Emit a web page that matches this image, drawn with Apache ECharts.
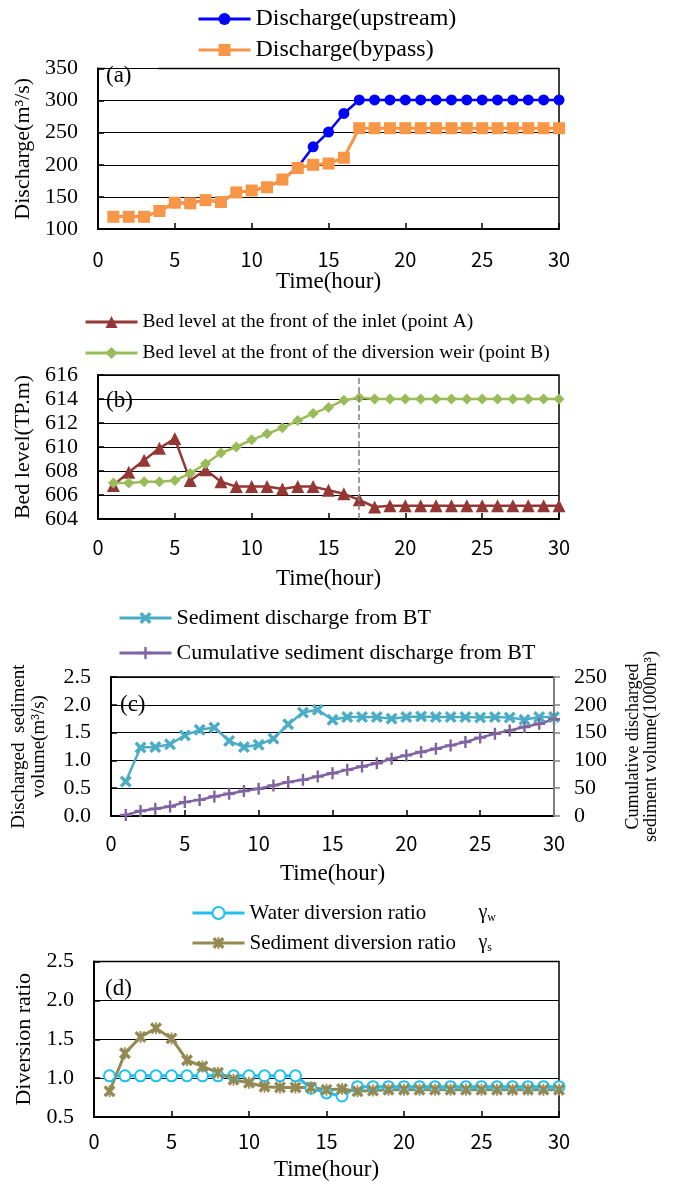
<!DOCTYPE html>
<html style="height: 100%">
<head>
    <meta charset="utf-8">
</head>
<body style="height: 100%; margin: 0; background: #fff">
    <div id="container" style="width: 673px; height: 1182px"></div>
    <script src="https://cdn.jsdelivr.net/npm/echarts@6.0.0/dist/echarts.min.js"></script>
<script>
    // time axis (hour)
    var hours = [1, 2, 3, 4, 5, 6, 7, 8, 9, 10, 11, 12, 13, 14, 15, 16, 17, 18, 19, 20, 21, 22, 23, 24, 25, 26, 27, 28, 29, 30];

    // (a) discharge m3/s
    var dischargeUp = [119, 119, 119, 128, 141, 140, 145, 142, 157, 160, 165, 177, 196, 228, 251, 280,
        301, 301, 301, 301, 301, 301, 301, 301, 301, 301, 301, 301, 301, 301];
    var dischargeBypass = [119, 119, 119, 128, 141, 140, 145, 142, 157, 160, 165, 177, 195, 200, 202, 211,
        257, 257, 257, 257, 257, 257, 257, 257, 257, 257, 257, 257, 257, 257];

    // (b) bed level TP.m
    var bedA = [606.8, 607.9, 608.9, 609.9, 610.7, 607.2, 608.1, 607.1, 606.7, 606.7, 606.7, 606.5, 606.7, 606.7, 606.4, 606.1, 605.6, 605.0,
        605.1, 605.1, 605.1, 605.1, 605.1, 605.1, 605.1, 605.1, 605.1, 605.1, 605.1, 605.1];
    var bedB = [607.0, 607.0, 607.1, 607.1, 607.2, 607.8, 608.6, 609.5, 610.0, 610.6, 611.1, 611.6, 612.2, 612.8, 613.3, 613.9, 614.1,
        614.0, 614.0, 614.0, 614.0, 614.0, 614.0, 614.0, 614.0, 614.0, 614.0, 614.0, 614.0, 614.0];

    // (c) sediment discharge
    var sedQ = [0.62, 1.23, 1.24, 1.29, 1.45, 1.55, 1.59, 1.35, 1.24, 1.28, 1.39, 1.65, 1.86, 1.91, 1.73, 1.78, 1.78, 1.78, 1.75, 1.78,
        1.79, 1.78, 1.78, 1.78, 1.77, 1.78, 1.77, 1.73, 1.78, 1.78];
    var sedCum = [2, 9, 13, 17, 25, 29, 35, 40, 45, 49, 55, 61, 65, 71, 77, 83, 89, 95, 103, 109, 115, 121, 127, 133, 141, 148, 154, 160, 166, 174];

    // (d) diversion ratio
    var ratioWater = [1.03, 1.03, 1.03, 1.03, 1.03, 1.03, 1.03, 1.03, 1.03, 1.03, 1.03, 1.03, 1.03, 0.87, 0.81, 0.77, 0.89,
        0.89, 0.89, 0.89, 0.89, 0.89, 0.89, 0.89, 0.89, 0.89, 0.89, 0.89, 0.89, 0.89];
    var ratioSed = [0.83, 1.32, 1.53, 1.64, 1.51, 1.23, 1.15, 1.07, 0.98, 0.94, 0.89, 0.88, 0.88, 0.88, 0.85, 0.86, 0.83, 0.84,
        0.85, 0.85, 0.85, 0.85, 0.85, 0.85, 0.85, 0.85, 0.85, 0.85, 0.85, 0.85];

    var serif = 'Liberation Serif';
    var sans = 'Noto Sans CJK JP';

    var xMark = 'path://M0,2 L2,0 L5,3 L8,0 L10,2 L7,5 L10,8 L8,10 L5,7 L2,10 L0,8 L3,5 Z';
    var plusMark = 'path://M4,0 H6 V4 H10 V6 H6 V10 H4 V6 H0 V4 H4 Z';
    var starMark = 'path://M0,2 L2,0 L5,3 L8,0 L10,2 L7,5 L10,8 L8,10 L5,7 L2,10 L0,8 L3,5 Z M4.3,0 H5.7 V10 H4.3 Z';

    function pairs(vals) {
        return hours.map(function (h, i) { return [h, vals[i]]; });
    }

    function xAx(gi, labelGap, nameGap) {
        return {
            type: 'value', gridIndex: gi, min: 0, max: 30, interval: 5,
            name: 'Time(hour)', nameLocation: 'middle', nameGap: nameGap,
            nameTextStyle: { fontFamily: serif, fontSize: 23, color: '#000' },
            axisLine: { lineStyle: { color: '#000', width: 2 } },
            axisTick: { inside: true, length: 6, lineStyle: { color: '#000', width: 1.5 } },
            axisLabel: { fontFamily: sans, fontSize: 20, color: '#000', margin: labelGap },
            splitLine: { show: false }
        };
    }

    function yAx(gi, min, max, interval, name, nameGap, digits) {
        return {
            type: 'value', gridIndex: gi, min: min, max: max, interval: interval,
            name: name, nameLocation: 'middle', nameGap: nameGap,
            nameTextStyle: { fontFamily: serif, fontSize: 22, color: '#000', lineHeight: 20 },
            axisLine: { show: true, lineStyle: { color: '#000', width: 2 } },
            axisTick: { show: true, inside: true, length: 6, lineStyle: { color: '#000', width: 1.5 } },
            axisLabel: {
                fontFamily: serif, fontSize: 22, color: '#000', margin: 20,
                formatter: function (v) { return v.toFixed(digits); }
            },
            splitLine: { show: true, lineStyle: { color: '#000', width: 1 } }
        };
    }

    function panelTag(txt, rx, ry, rw, rh, tx, ty) {
        return {
            type: 'group', z: 100,
            children: [
                { type: 'rect', shape: { x: rx, y: ry, width: rw, height: rh }, style: { fill: '#fff' } },
                { type: 'text', x: tx, y: ty, style: { text: txt, font: '23px "Liberation Serif"', fill: '#000', verticalAlign: 'middle' } }
            ]
        };
    }

    var dom = document.getElementById('container');
    var myChart = echarts.init(dom);

    var yC = yAx(2, 0, 2.5, 0.5, 'Discharged  sediment\nvolume(m³/s)', 62, 1);
    yC.nameTextStyle.fontSize = 19;
    var yC2 = {
        type: 'value', gridIndex: 2, position: 'right', min: 0, max: 250, interval: 50,
        name: 'Cumulative discharged\nsediment volume(1000m³)', nameLocation: 'middle', nameGap: 70,
        nameTextStyle: { fontFamily: serif, fontSize: 18, color: '#000', lineHeight: 18 },
        axisLine: { show: true, lineStyle: { color: '#808080', width: 2 } },
        axisTick: { show: true, inside: false, length: 6, lineStyle: { color: '#808080', width: 1.5 } },
        axisLabel: { fontFamily: serif, fontSize: 22, color: '#000', margin: 20 },
        splitLine: { show: false },
        z: 5
    };

    var option = {
        animation: false,
        backgroundColor: '#fff',
        grid: [
            { left: 98, right: 114, top: 68.5, height: 160.5, show: true, borderColor: '#000', borderWidth: 1.5 },
            { left: 98, right: 114, top: 375, height: 144, show: true, borderColor: '#000', borderWidth: 1.5 },
            { left: 111, right: 119, top: 677, height: 139, show: true, borderColor: '#000', borderWidth: 1.5 },
            { left: 94, right: 114, top: 961.5, height: 156, show: true, borderColor: '#000', borderWidth: 1.5 }
        ],
        legend: [
            {
                data: ['Discharge(upstream)', 'Discharge(bypass)'], orient: 'vertical', left: 197, top: 7, padding: 0,
                itemWidth: 52, itemHeight: 15, itemGap: 7, lineStyle: { width: 3 },
                textStyle: { fontFamily: serif, fontSize: 24, lineHeight: 22, color: '#000' }
            },
            {
                data: ['Bed level at the front of the inlet (point A)', 'Bed level at the front of the diversion weir (point B)'],
                orient: 'vertical', left: 84, top: 312, padding: 0, itemWidth: 52, itemHeight: 15, itemGap: 11, lineStyle: { width: 3 },
                textStyle: { fontFamily: serif, fontSize: 19.5, lineHeight: 20, color: '#000' }
            },
            {
                data: ['Sediment discharge from BT', 'Cumulative sediment discharge from BT'],
                orient: 'vertical', left: 118, top: 607, padding: 0, itemWidth: 52, itemHeight: 15, itemGap: 13, lineStyle: { width: 3 },
                textStyle: { fontFamily: serif, fontSize: 22, lineHeight: 22, color: '#000' }
            },
            {
                data: ['Water diversion ratio', 'Sediment diversion ratio'],
                orient: 'vertical', left: 191, top: 902, padding: 0, itemWidth: 52, itemHeight: 15, itemGap: 8, lineStyle: { width: 3 },
                formatter: function (name) {
                    if (name === 'Water diversion ratio') return '{a|Water diversion ratio}{g|γ}{s|w}';
                    return '{a|Sediment diversion ratio}{g|γ}{s|s}';
                },
                textStyle: {
                    fontFamily: serif, fontSize: 21, lineHeight: 22, color: '#000',
                    rich: {
                        a: { width: 229, fontFamily: serif, fontSize: 21, color: '#000' },
                        g: { fontFamily: serif, fontSize: 20, color: '#000' },
                        s: { fontFamily: serif, fontSize: 12, color: '#000', padding: [9, 0, 0, 0] }
                    }
                }
            }
        ],
        xAxis: [xAx(0, 20, 41), xAx(1, 18, 48), xAx(2, 17, 46), xAx(3, 14, 41)],
        yAxis: [
            yAx(0, 100, 350, 50, 'Discharge(m³/s)', 65, 0),
            yAx(1, 604, 616, 2, 'Bed level(TP.m)', 65, 0),
            yC,
            yAx(3, 0.5, 2.5, 0.5, 'Diversion ratio', 58, 1),
            yC2
        ],
        graphic: [
            panelTag('(a)', 105, 62, 53, 27, 106, 76),
            panelTag('(b)', 105, 389, 52, 23, 106, 401),
            panelTag('(c)', 118, 693, 55, 24, 120, 705),
            panelTag('(d)', 102, 976, 53, 27, 105, 989)
        ],
        series: [
            {
                name: 'Discharge(upstream)', type: 'line', xAxisIndex: 0, yAxisIndex: 0, data: pairs(dischargeUp),
                symbol: 'circle', symbolSize: 11, color: '#0000FF', lineStyle: { width: 2.5 }
            },
            {
                name: 'Discharge(bypass)', type: 'line', xAxisIndex: 0, yAxisIndex: 0, data: pairs(dischargeBypass),
                symbol: 'rect', symbolSize: 12, color: '#F79646', lineStyle: { width: 3 }
            },
            {
                name: 'Bed level at the front of the inlet (point A)', type: 'line', xAxisIndex: 1, yAxisIndex: 1, data: pairs(bedA),
                symbol: 'triangle', symbolSize: 13, color: '#953735', lineStyle: { width: 2.5 },
                markLine: {
                    silent: true, symbol: 'none', label: { show: false },
                    lineStyle: { type: 'dashed', color: '#808080', width: 1.5 },
                    data: [{ xAxis: 17 }]
                }
            },
            {
                name: 'Bed level at the front of the diversion weir (point B)', type: 'line', xAxisIndex: 1, yAxisIndex: 1, data: pairs(bedB),
                symbol: 'diamond', symbolSize: 11, color: '#9BBB59', lineStyle: { width: 2.5 }
            },
            {
                name: 'Sediment discharge from BT', type: 'line', xAxisIndex: 2, yAxisIndex: 2, data: pairs(sedQ),
                symbol: xMark, symbolSize: 12, color: '#4BACC6', lineStyle: { width: 2.5 }
            },
            {
                name: 'Cumulative sediment discharge from BT', type: 'line', xAxisIndex: 2, yAxisIndex: 4, data: pairs(sedCum),
                symbol: plusMark, symbolSize: 12, color: '#8064A2', lineStyle: { width: 2.5 }
            },
            {
                name: 'Water diversion ratio', type: 'line', xAxisIndex: 3, yAxisIndex: 3, data: pairs(ratioWater),
                symbol: 'emptyCircle', symbolSize: 11, color: '#1FC0F0', lineStyle: { width: 3 },
                itemStyle: { borderWidth: 3 }
            },
            {
                name: 'Sediment diversion ratio', type: 'line', xAxisIndex: 3, yAxisIndex: 3, data: pairs(ratioSed),
                symbol: starMark, symbolSize: 12, color: '#938953', lineStyle: { width: 3 }
            }
        ]
    };

    myChart.setOption(option);
</script>
</body>
</html>
